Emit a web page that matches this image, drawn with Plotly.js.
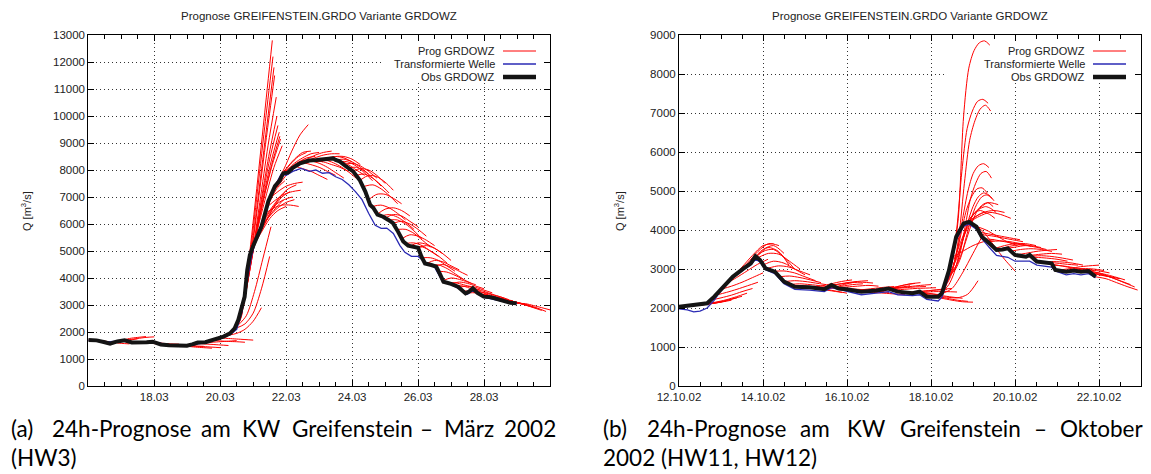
<!DOCTYPE html>
<html>
<head>
<meta charset="utf-8">
<script src="https://cdn.plot.ly/plotly-3.0.1.min.js"></script>
<style>html,body{margin:0;padding:0;background:#fff}#chart{width:1151px;height:474px}</style>
</head>
<body>
<div id="chart"></div>
<script>
// ---------------- DATA ----------------
// time in days since start of each panel, discharge Q in m3/s
// Panel (a): March 2002, start 16.03.2002
const obsA_t = [0, 0.25, 0.5, 0.66, 0.88, 1.1, 1.32, 1.55, 1.77, 1.95, 2.2, 2.45, 2.66, 2.99, 3.15, 3.32, 3.55, 3.77, 4.0, 4.1, 4.3, 4.44, 4.55, 4.66, 4.74, 4.82, 4.9, 4.99, 5.12, 5.25, 5.46, 5.66, 5.8, 5.91, 6.05, 6.2, 6.42, 6.7, 6.92, 7.2, 7.42, 7.5, 7.62, 7.83, 8.03, 8.23, 8.4, 8.55, 8.64, 8.77, 8.94, 9.1, 9.24, 9.4, 9.55, 9.7, 9.85, 10.0, 10.1, 10.21, 10.4, 10.55, 10.66, 10.77, 11.0, 11.21, 11.44, 11.55, 11.66, 11.8, 11.99, 12.15, 12.32, 12.5, 12.66, 12.8, 12.99];
const obsA_q = [1700, 1690, 1620, 1570, 1650, 1690, 1610, 1600, 1620, 1640, 1540, 1510, 1500, 1490, 1540, 1610, 1620, 1700, 1780, 1830, 1950, 2140, 2450, 2940, 3300, 4300, 4850, 5160, 5500, 5900, 6850, 7400, 7600, 7880, 7900, 8080, 8250, 8350, 8370, 8400, 8430, 8370, 8320, 8120, 7950, 7630, 7200, 6700, 6600, 6350, 6270, 6150, 6030, 5700, 5350, 5200, 5160, 5120, 4800, 4540, 4480, 4420, 4150, 3860, 3780, 3680, 3430, 3500, 3620, 3450, 3310, 3300, 3250, 3180, 3120, 3080, 3060];

const trfA_t = [0, 0.5, 1.0, 1.5, 2.0, 2.5, 3.0, 3.5, 4.0, 4.3, 4.5, 4.66, 4.8, 4.95, 5.1, 5.2, 5.35, 5.5, 5.7, 5.85, 6.0, 6.2, 6.45, 6.7, 6.9, 7.1, 7.3, 7.5, 7.7, 7.9, 8.1, 8.3, 8.5, 8.7, 8.88, 9.05, 9.25, 9.45, 9.6, 9.8, 10.0, 10.2, 10.5, 10.75, 11.0, 11.25, 11.5, 11.66, 12.0, 12.5, 13.0];
const trfA_q = [1700, 1620, 1680, 1610, 1630, 1500, 1480, 1600, 1760, 1900, 2100, 2750, 3800, 4800, 5500, 5710, 6200, 6900, 7500, 7850, 7800, 7950, 8060, 7950, 8000, 7880, 7900, 7750, 7650, 7450, 7200, 6900, 6400, 5950, 5840, 5850, 5650, 5200, 4950, 4800, 4800, 4600, 4400, 3850, 3750, 3600, 3400, 3550, 3280, 3150, 3060];

// 24h forecasts, values every 6 h from issue time t0
const progA_base_t0 = [0, 0.25, 0.5, 0.75, 1.0, 1.25, 1.5, 1.75, 2.0, 2.25, 2.5, 2.75, 3.0, 3.25, 3.5, 3.75, 4.0, 4.25];
const progA_base_q = [
  [1700, 1680, 1650, 1620, 1600], [1690, 1660, 1620, 1580, 1560], [1640, 1620, 1650, 1700, 1750],
  [1600, 1680, 1760, 1800, 1830], [1690, 1720, 1760, 1800, 1820], [1660, 1640, 1620, 1600, 1580],
  [1620, 1600, 1570, 1560, 1540], [1610, 1600, 1580, 1560, 1550], [1600, 1560, 1530, 1510, 1500],
  [1530, 1520, 1510, 1500, 1500], [1510, 1500, 1490, 1480, 1470], [1500, 1470, 1440, 1420, 1400],
  [1490, 1470, 1460, 1440, 1420], [1580, 1560, 1540, 1520, 1500], [1600, 1620, 1640, 1660, 1680],
  [1690, 1670, 1650, 1640, 1620], [1780, 1760, 1740, 1720, 1700], [1880, 1950, 2100, 2400, 2900]
];
const progA_rise_t0 = [4.5, 4.54, 4.58, 4.6, 4.63, 4.65, 4.7, 4.72, 4.75, 4.79, 4.81, 4.83, 4.88, 4.92, 4.96, 5.0, 5.06, 5.12, 5.19, 5.25, 5.31, 5.38, 5.44, 5.5, 5.56, 5.62, 5.67, 5.75, 5.88];
const progA_rise_q = [
  [2150, 2300, 2700, 3600, 4800], [2250, 2600, 3500, 4700, 5900], [2350, 4300, 7000, 9900, 12800],
  [2400, 4300, 6900, 9600, 12200], [2500, 4400, 6800, 9300, 11800], [2600, 4500, 6800, 9200, 11500],
  [2900, 4700, 6800, 8900, 10700], [3050, 4800, 6700, 8500, 10000], [3300, 5000, 6800, 8400, 9650],
  [3700, 5300, 6900, 8300, 9400], [3900, 5400, 6900, 8200, 9250], [4100, 5600, 7000, 8200, 9150],
  [4500, 5800, 7000, 8100, 8900], [4800, 5600, 6300, 6700, 6900], [5000, 5900, 6700, 7300, 7600],
  [5160, 5700, 6200, 6500, 6650], [5300, 5900, 6500, 7000, 7300], [5500, 6100, 6600, 7000, 7200],
  [5700, 6200, 6600, 6900, 7000], [5900, 6300, 6600, 6800, 6900], [6150, 6600, 7000, 7300, 7450],
  [6400, 6600, 6700, 6700, 6650], [6650, 6900, 7100, 7200, 7250], [6950, 7200, 7400, 7500, 7550],
  [7150, 7500, 7900, 8200, 8400], [7300, 7800, 8200, 8500, 8650], [7450, 8000, 8700, 9300, 9680],
  [7600, 8050, 8400, 8650, 8700], [7850, 8100, 8300, 8450, 8500]
];
const progA_peak_t0 = [6.0, 6.12, 6.25, 6.38, 6.5, 6.62, 6.75, 6.88, 7.0, 7.12, 7.25, 7.38, 7.5, 7.62, 7.75, 7.88];
const progA_peak_q = [
  [7950, 8250, 8450, 8600, 8650], [8050, 8200, 8300, 8350, 8300], [8150, 8050, 7950, 7800, 7650],
  [8220, 8400, 8550, 8650, 8700], [8280, 8200, 8100, 7950, 7800], [8320, 8450, 8550, 8600, 8600],
  [8340, 8250, 8100, 7900, 7700], [8360, 8300, 8200, 8100, 7950], [8380, 8450, 8500, 8450, 8300],
  [8390, 8300, 8150, 7950, 7700], [8410, 8500, 8500, 8400, 8200], [8420, 8350, 8200, 8000, 7800],
  [8370, 8400, 8300, 8100, 7850], [8320, 8300, 8150, 7900, 7600], [8200, 8250, 8150, 7950, 7700],
  [8080, 8100, 7950, 7700, 7400]
];
const progA_fall_t0 = [8.0, 8.12, 8.25, 8.38, 8.5, 8.62, 8.75, 8.88, 9.0, 9.12, 9.25, 9.38, 9.5, 9.62, 9.75, 9.88, 10.0, 10.12, 10.25, 10.38, 10.5, 10.62, 10.75, 10.88, 11.0, 11.12, 11.25, 11.38, 11.5, 11.62, 11.75, 11.88, 12.0, 12.12, 12.25, 12.38, 12.5, 12.62, 12.75, 12.88, 13.0];
const progA_fall_q = [
  [7950, 8050, 8000, 7800, 7500], [7800, 7850, 7700, 7450, 7150], [7630, 7800, 7750, 7550, 7250],
  [7400, 7450, 7300, 7050, 6750], [6900, 7100, 7100, 6950, 6750], [6650, 6700, 6600, 6400, 6150],
  [6350, 6550, 6600, 6500, 6300], [6300, 6350, 6250, 6050, 5800], [6220, 6350, 6300, 6100, 5900],
  [6150, 6150, 6000, 5750, 5450], [6030, 6100, 6000, 5800, 5550], [5800, 5800, 5650, 5400, 5150],
  [5450, 5600, 5550, 5400, 5200], [5280, 5300, 5200, 5000, 4800], [5180, 5300, 5250, 5100, 4900],
  [5150, 5150, 5000, 4800, 4550], [5120, 5200, 5100, 4900, 4650], [4750, 4750, 4650, 4450, 4250],
  [4530, 4650, 4600, 4450, 4300], [4490, 4480, 4350, 4150, 3950], [4440, 4500, 4400, 4250, 4100],
  [4250, 4220, 4100, 3950, 3800], [3900, 4000, 3950, 3850, 3750], [3830, 3820, 3750, 3650, 3550],
  [3780, 3850, 3800, 3700, 3600], [3730, 3700, 3600, 3500, 3380], [3660, 3700, 3650, 3550, 3450],
  [3520, 3500, 3420, 3340, 3260], [3450, 3450, 3380, 3300, 3200], [3580, 3550, 3450, 3350, 3250],
  [3500, 3460, 3380, 3300, 3200], [3400, 3380, 3300, 3220, 3150], [3310, 3300, 3240, 3170, 3100],
  [3300, 3270, 3200, 3130, 3060], [3270, 3240, 3170, 3100, 3020], [3220, 3200, 3130, 3050, 2980],
  [3180, 3150, 3080, 3000, 2920], [3140, 3120, 3050, 2960, 2870], [3110, 3080, 3000, 2900, 2800],
  [3090, 3060, 2980, 2880, 2760], [3060, 3050, 2980, 2900, 2820]
];

// Panel (b): October 2002, start 12.10.2002
const obsB_t = [0, 0.2, 0.4, 0.67, 0.84, 1.02, 1.28, 1.54, 1.71, 1.82, 1.93, 2.06, 2.28, 2.5, 2.76, 3.11, 3.46, 3.63, 3.8, 3.99, 4.34, 4.69, 4.99, 5.21, 5.56, 5.73, 5.9, 6.17, 6.26, 6.43, 6.6, 6.78, 6.91, 7.08, 7.21, 7.39, 7.56, 7.7, 7.83, 8.0, 8.26, 8.35, 8.52, 8.87, 8.96, 9.22, 9.4, 9.57, 9.75, 9.92];
const obsB_q = [2030, 2050, 2077, 2120, 2290, 2500, 2800, 3015, 3145, 3330, 3230, 3015, 2930, 2675, 2545, 2530, 2480, 2590, 2500, 2480, 2420, 2450, 2500, 2420, 2380, 2420, 2290, 2290, 2380, 2975, 3830, 4170, 4210, 4085, 3830, 3660, 3490, 3500, 3530, 3360, 3315, 3360, 3190, 3145, 2975, 2930, 2960, 2930, 2950, 2800];

const trfB_t = [0, 0.2, 0.35, 0.5, 0.67, 0.84, 1.0, 1.28, 1.54, 1.71, 1.82, 1.93, 2.06, 2.28, 2.5, 2.76, 3.11, 3.46, 3.63, 3.99, 4.34, 4.69, 4.99, 5.21, 5.56, 5.73, 5.9, 6.17, 6.26, 6.43, 6.6, 6.78, 6.91, 7.08, 7.21, 7.39, 7.56, 7.83, 8.0, 8.26, 8.35, 8.52, 8.87, 8.96, 9.22, 9.4, 9.57, 9.75, 9.92];
const trfB_q = [1980, 1950, 1900, 1920, 2000, 2200, 2450, 2780, 2980, 3100, 3250, 3180, 2980, 2880, 2620, 2480, 2460, 2420, 2520, 2420, 2340, 2380, 2420, 2340, 2320, 2340, 2220, 2180, 2280, 2850, 3750, 4100, 4150, 4020, 3780, 3550, 3350, 3300, 3200, 3200, 3200, 3100, 3050, 2950, 2850, 2880, 2850, 2880, 2780];

const progB_base_t0 = [0.0, 0.12, 0.25, 0.38, 0.5, 0.62, 0.75, 0.88, 1.0, 1.12, 1.25, 1.38, 1.5, 1.62, 1.75, 1.88, 2.0, 2.12, 2.25, 2.38, 2.5, 2.62, 2.75, 2.88, 3.0, 3.12, 3.25, 3.38, 3.5, 3.62, 3.75, 3.88, 4.0, 4.12, 4.25, 4.38, 4.5, 4.62, 4.75, 4.88, 5.0, 5.12, 5.25, 5.38, 5.5, 5.62, 5.75, 5.88, 6.0, 6.12, 6.25];
const progB_base_q = [
  [2030, 2050, 2080, 2120, 2160], [2040, 2060, 2090, 2130, 2180], [2060, 2080, 2110, 2150, 2200],
  [2070, 2090, 2130, 2190, 2260], [2090, 2120, 2160, 2230, 2300], [2110, 2150, 2210, 2290, 2380],
  [2200, 2260, 2330, 2420, 2500], [2330, 2400, 2480, 2570, 2660], [2480, 2560, 2660, 2780, 2900],
  [2620, 2780, 2950, 3120, 3250], [2770, 3050, 3350, 3600, 3650], [2880, 3150, 3450, 3650, 3600],
  [2990, 3250, 3500, 3600, 3400], [3080, 3350, 3550, 3450, 3100], [3200, 3450, 3500, 3300, 3000],
  [3290, 3400, 3380, 3200, 3000], [3100, 3200, 3150, 3000, 2850], [3020, 3080, 3050, 2950, 2850],
  [2940, 2950, 2900, 2800, 2700], [2800, 2820, 2780, 2720, 2650], [2675, 2700, 2680, 2640, 2600],
  [2600, 2620, 2600, 2570, 2540], [2550, 2560, 2540, 2520, 2500], [2540, 2520, 2480, 2440, 2400],
  [2535, 2520, 2480, 2430, 2380], [2530, 2560, 2620, 2680, 2720], [2510, 2540, 2600, 2650, 2680],
  [2490, 2520, 2560, 2600, 2620], [2480, 2550, 2620, 2680, 2700], [2590, 2620, 2650, 2660, 2640],
  [2520, 2540, 2560, 2580, 2560], [2500, 2490, 2470, 2450, 2430], [2480, 2460, 2440, 2420, 2400],
  [2450, 2470, 2500, 2530, 2550], [2430, 2450, 2480, 2510, 2530], [2420, 2400, 2380, 2360, 2340],
  [2420, 2450, 2490, 2530, 2570], [2440, 2480, 2530, 2590, 2630], [2450, 2500, 2560, 2620, 2650],
  [2480, 2500, 2520, 2540, 2550], [2500, 2520, 2550, 2580, 2600], [2460, 2480, 2500, 2510, 2520],
  [2410, 2400, 2380, 2360, 2340], [2400, 2420, 2440, 2460, 2470], [2390, 2420, 2450, 2480, 2500],
  [2400, 2410, 2420, 2420, 2410], [2410, 2370, 2320, 2280, 2250], [2350, 2300, 2250, 2200, 2170],
  [2290, 2250, 2200, 2160, 2150], [2300, 2280, 2260, 2350, 2700], [2360, 2500, 2900, 3400, 3900]
];
// peak forecasts, values every 3 h
const progB_peak_t0 = [6.4, 6.36, 6.42, 6.38, 6.44, 6.34, 6.46, 6.48, 6.3, 6.52, 6.5, 6.55];
const progB_peak_q = [
  [2700, 3300, 4300, 6900, 8150, 8600, 8800, 8850, 8740],
  [2600, 3100, 4000, 5500, 6600, 7050, 7300, 7350, 7250],
  [2750, 3100, 3900, 5200, 6300, 6800, 7100, 7200, 7050],
  [2650, 3000, 3500, 4300, 5000, 5450, 5650, 5700, 5600],
  [2800, 3000, 3400, 4100, 4800, 5200, 5450, 5500, 5330],
  [2550, 2800, 3300, 3900, 4500, 4850, 5050, 5080, 4950],
  [2850, 3000, 3300, 3800, 4300, 4650, 4850, 4900, 4800],
  [2900, 3100, 3400, 3800, 4200, 4500, 4650, 4700, 4600],
  [2450, 2600, 2900, 3400, 3900, 4250, 4450, 4500, 4450],
  [3100, 3400, 3800, 4100, 4300, 4400, 4450, 4400, 4300],
  [3000, 3300, 3700, 4200, 4600, 4850, 4950, 4900, 4750],
  [3250, 3600, 3950, 4250, 4450, 4550, 4600, 4550, 4450]
];
const progB_fall_t0 = [6.5, 6.6, 6.75, 6.9, 7.0, 7.06, 7.12, 7.19, 7.25, 7.38, 7.5, 7.62, 7.75, 7.88, 8.0, 8.12, 8.25, 8.38, 8.5, 8.62, 8.75, 8.88, 9.0, 9.12, 9.25, 9.38, 9.5, 9.62, 9.75, 9.85, 9.92];
const progB_fall_q = [
  [3300, 3450, 3600, 3700, 3750], [3800, 4200, 4500, 4700, 4650], [4100, 4300, 4450, 4500, 4450],
  [4200, 4350, 4450, 4400, 4300], [4150, 3950, 3600, 3250, 2950], [4100, 4000, 3850, 3700, 3600],
  [3950, 3900, 3850, 3800, 3750], [3880, 3850, 3800, 3750, 3700], [3780, 3750, 3700, 3650, 3600],
  [3700, 3720, 3700, 3650, 3580], [3520, 3600, 3650, 3650, 3600], [3500, 3580, 3620, 3600, 3550],
  [3520, 3560, 3600, 3560, 3500], [3450, 3500, 3520, 3500, 3450], [3360, 3400, 3450, 3480, 3500],
  [3330, 3350, 3380, 3400, 3380], [3320, 3300, 3280, 3250, 3200], [3330, 3340, 3320, 3280, 3230],
  [3200, 3180, 3150, 3120, 3100], [3180, 3190, 3180, 3150, 3100], [3150, 3100, 3050, 3000, 2950],
  [3100, 3080, 3040, 3000, 2960], [2970, 3000, 3050, 3080, 3100], [2950, 2980, 3010, 3000, 2960],
  [2930, 2950, 2980, 2950, 2900], [2940, 2920, 2880, 2830, 2780], [2940, 2900, 2850, 2800, 2750],
  [2940, 2920, 2870, 2800, 2720], [2950, 2900, 2800, 2700, 2600], [2900, 2850, 2760, 2650, 2540],
  [2800, 2750, 2650, 2550, 2460]
];

const tickA_vals = ['2002-03-18', '2002-03-20', '2002-03-22', '2002-03-24', '2002-03-26', '2002-03-28'];
const tickA_text = ['18.03', '20.03', '22.03', '24.03', '26.03', '28.03'];
const tickB_vals = ['2002-10-12', '2002-10-14', '2002-10-16', '2002-10-18', '2002-10-20', '2002-10-22'];
const tickB_text = ['12.10.02', '14.10.02', '16.10.02', '18.10.02', '20.10.02', '22.10.02'];

const legendLabels = ['Prog GRDOWZ', 'Transformierte Welle', 'Obs GRDOWZ'];
const plotTitle = 'Prognose GREIFENSTEIN.GRDO Variante GRDOWZ';
const yTitle = 'Q [m<sup>3</sup>/s]';
const capA1 = ['(a)', '24h-Prognose', 'am', 'KW', 'Greifenstein', '–', 'März', '2002'];
const capA2 = '(HW3)';
const capB1 = ['(b)', '24h-Prognose', 'am', 'KW', 'Greifenstein', '–', 'Oktober'];
const capB2 = '2002 (HW11, HW12)';

// ---------------- BUILD ----------------
const W = 1151, H = 474, DAY = 864e5, HOUR = 36e5;
const baseA = Date.UTC(2002, 2, 16), baseB = Date.UTC(2002, 9, 12);
const PX = v => v / W, PY = v => 1 - v / H;
const RED = '#ff0000', BLUE = '#2a2ab4', BLACK = '#141414';
const FONT = 'Liberation Sans, Arial, sans-serif';

const traces = [];
function addProg(base, t0s, rows, stepH, xa, ya) {
  rows.forEach((row, i) => {
    traces.push({
      x: row.map((_, k) => base + t0s[i] * DAY + k * stepH * HOUR), y: row,
      mode: 'lines', line: { color: RED, width: 1, shape: 'spline', smoothing: 0.8 },
      xaxis: xa, yaxis: ya, hoverinfo: 'skip', showlegend: false
    });
  });
}
function addLine(base, t, q, color, width, xa, ya) {
  traces.push({
    x: t.map(d => base + d * DAY), y: q, mode: 'lines',
    line: { color: color, width: width, shape: 'linear' },
    xaxis: xa, yaxis: ya, hoverinfo: 'skip', showlegend: false
  });
}
addProg(baseA, progA_base_t0, progA_base_q, 6, 'x', 'y');
addProg(baseA, progA_rise_t0, progA_rise_q, 6, 'x', 'y');
addProg(baseA, progA_peak_t0, progA_peak_q, 6, 'x', 'y');
addProg(baseA, progA_fall_t0, progA_fall_q, 6, 'x', 'y');
addLine(baseA, trfA_t, trfA_q, BLUE, 1.3, 'x', 'y');
addLine(baseA, obsA_t, obsA_q, BLACK, 4, 'x', 'y');

addProg(baseB, progB_base_t0, progB_base_q, 6, 'x2', 'y2');
addProg(baseB, progB_peak_t0, progB_peak_q, 3, 'x2', 'y2');
addProg(baseB, progB_fall_t0, progB_fall_q, 6, 'x2', 'y2');
addLine(baseB, trfB_t, trfB_q, BLUE, 1.3, 'x2', 'y2');
addLine(baseB, obsB_t, obsB_q, BLACK, 4, 'x2', 'y2');

const tickFont = { family: FONT, size: 11.5, color: '#222' };
function xAxis(dom, base, days, vals, text, anchor) {
  return {
    type: 'date', domain: dom, range: [base, base + days * DAY], anchor: anchor,
    tickmode: 'array', tickvals: vals, ticktext: text, ticks: 'inside', ticklen: 6, tickcolor: '#000', tickwidth: 1,
    minor: { tick0: base, dtick: 12 * HOUR, ticks: 'inside', ticklen: 4, tickcolor: '#000', showgrid: false },
    showline: true, linecolor: '#000', linewidth: 1, mirror: 'ticks',
    showgrid: true, gridcolor: '#333', griddash: '1px,3px', gridwidth: 1,
    zeroline: false, tickfont: tickFont, fixedrange: true
  };
}
function yAxis(dom, max, anchor) {
  return {
    domain: dom, range: [0, max], tick0: 0, dtick: 1000, anchor: anchor,
    ticks: 'inside', ticklen: 6, tickcolor: '#000', showline: true, linecolor: '#000', linewidth: 1, mirror: 'ticks',
    showgrid: true, gridcolor: '#333', griddash: '1px,3px', gridwidth: 1,
    zeroline: false, tickfont: tickFont, tickformat: 'd', fixedrange: true
  };
}
const yDom = [1 - 386 / H, 1 - 35 / H];
const xDomA = [PX(88.3), PX(550)], xDomB = [PX(679), PX(1141)];

const ann = [];
const shapes = [];
// legend box (white, between gridlines and traces) given in the subplot's own axis coordinates
function panelDecor(xa, ya, boxX0, boxX1, boxY0, boxY1, legTextRight, sampleL, sampleR, titleCx, yTitleX) {
  ann.push({ text: plotTitle, x: PX(titleCx), y: PY(16), xref: 'paper', yref: 'paper', showarrow: false,
    xanchor: 'center', yanchor: 'middle', font: { family: FONT, size: 11.5, color: '#222' } });
  ann.push({ text: yTitle, x: PX(yTitleX), y: PY(211), xref: 'paper', yref: 'paper', showarrow: false,
    textangle: -90, xanchor: 'center', yanchor: 'middle', font: { family: FONT, size: 11, color: '#222' } });
  shapes.push({ type: 'rect', xref: xa, yref: ya, x0: boxX0, x1: boxX1, y0: boxY0, y1: boxY1,
    fillcolor: '#fff', line: { width: 0 }, layer: 'between' });
  const cols = [RED, BLUE, BLACK], widths = [1, 1.5, 4.5], rows = [51, 64, 77];
  legendLabels.forEach((lab, i) => {
    ann.push({ text: lab, x: PX(legTextRight), y: PY(rows[i]), xref: 'paper', yref: 'paper', showarrow: false,
      xanchor: 'right', yanchor: 'middle', font: { family: FONT, size: 11, color: '#222' } });
    shapes.push({ type: 'line', xref: 'paper', yref: 'paper', x0: PX(sampleL), x1: PX(sampleR), y0: PY(rows[i]), y1: PY(rows[i]),
      line: { color: cols[i], width: widths[i] }, layer: 'above' });
  });
}
panelDecor('x', 'y', baseA + 8.93 * DAY, baseA + 13.98 * DAY, 11260, 12980, 497, 503, 536, 319, 26);
panelDecor('x2', 'y2', baseB + 6.33 * DAY, baseB + 10.98 * DAY, 7800, 8985, 1087, 1093, 1126, 910, 619);

const capFont = { family: 'Lato, Open Sans, sans-serif', size: 22.5, color: '#000' };
const capA1x = [9, 49.5, 199, 240, 290, 418, 442, 502];
const capB1x = [601, 645, 797.6, 844.5, 897.7, 1031.5, 1058];
capA1.forEach((w, i) => ann.push({ text: w, x: PX(capA1x[i]), y: PY(428), xref: 'paper', yref: 'paper', showarrow: false, xanchor: 'left', yanchor: 'middle', font: capFont }));
capB1.forEach((w, i) => ann.push({ text: w, x: PX(capB1x[i]), y: PY(428), xref: 'paper', yref: 'paper', showarrow: false, xanchor: 'left', yanchor: 'middle', font: capFont }));
ann.push({ text: capA2, x: PX(9), y: PY(457), xref: 'paper', yref: 'paper', showarrow: false, xanchor: 'left', yanchor: 'middle', font: capFont });
ann.push({ text: capB2, x: PX(601), y: PY(457), xref: 'paper', yref: 'paper', showarrow: false, xanchor: 'left', yanchor: 'middle', font: capFont });

const layout = {
  width: W, height: H, margin: { l: 0, r: 0, t: 0, b: 0, pad: 0 },
  paper_bgcolor: '#fff', plot_bgcolor: '#fff', showlegend: false,
  font: { family: FONT, color: '#222' },
  xaxis: xAxis(xDomA, baseA, 14, tickA_vals, tickA_text, 'y'),
  yaxis: yAxis(yDom, 13000, 'x'),
  xaxis2: xAxis(xDomB, baseB, 11, tickB_vals, tickB_text, 'y2'),
  yaxis2: yAxis(yDom, 9000, 'x2'),
  annotations: ann, shapes: shapes
};
Plotly.newPlot('chart', traces, layout, { displayModeBar: false, staticPlot: true });
</script>
</body>
</html>
